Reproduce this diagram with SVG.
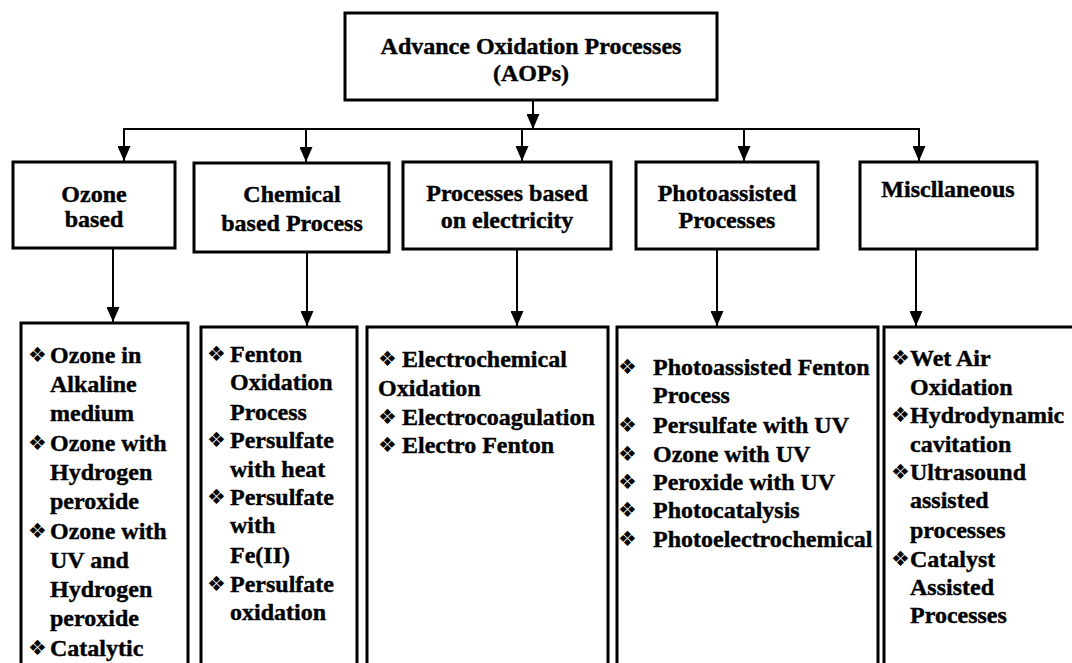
<svg xmlns="http://www.w3.org/2000/svg" width="1072" height="663" viewBox="0 0 1072 663">
<style>
.box{fill:#fff;stroke:#000;stroke-width:3}
.t{font-family:"Liberation Serif","Times New Roman",serif;font-weight:bold;font-size:24px;fill:#000;stroke:#000;stroke-width:0.4}
.c{text-anchor:middle}
.b{font-family:"DejaVu Sans",sans-serif;font-size:21px;font-weight:normal;stroke:none}
.ln{fill:none;stroke:#000;stroke-width:2}
</style>
<defs>
<marker id="ah" markerUnits="userSpaceOnUse" markerWidth="15" markerHeight="13" refX="15" refY="6.5" orient="auto" viewBox="0 0 15 13">
<path d="M0,0 L15,6.5 L0,13 z" fill="#000"/>
</marker>
</defs>
<rect width="1072" height="663" fill="#fff"/>
<g id="connectors">
<line class="ln" x1="533" y1="100" x2="533" y2="129" marker-end="url(#ah)"/>
<line class="ln" x1="123" y1="129" x2="920" y2="129"/>
<line class="ln" x1="124" y1="129" x2="124" y2="161" marker-end="url(#ah)"/>
<line class="ln" x1="306" y1="129" x2="306" y2="162" marker-end="url(#ah)"/>
<line class="ln" x1="522" y1="129" x2="522" y2="161" marker-end="url(#ah)"/>
<line class="ln" x1="744" y1="129" x2="744" y2="161" marker-end="url(#ah)"/>
<line class="ln" x1="919" y1="129" x2="919" y2="161" marker-end="url(#ah)"/>
<line class="ln" x1="113" y1="248" x2="113" y2="322" marker-end="url(#ah)"/>
<line class="ln" x1="307" y1="252" x2="307" y2="326" marker-end="url(#ah)"/>
<line class="ln" x1="517" y1="249" x2="517" y2="326" marker-end="url(#ah)"/>
<line class="ln" x1="717" y1="249" x2="717" y2="326" marker-end="url(#ah)"/>
<line class="ln" x1="916" y1="249" x2="916" y2="326" marker-end="url(#ah)"/>
</g>
<g id="aops">
<rect class="box" x="345" y="13" width="372" height="87"/>
<text class="t c" x="531" y="54">Advance Oxidation Processes</text>
<text class="t c" x="531" y="81">(AOPs)</text>
</g>
<g id="ozone">
<rect class="box" x="13" y="162" width="162" height="86"/>
<text class="t c" x="94" y="202">Ozone</text>
<text class="t c" x="94" y="227">based</text>
</g>
<g id="chemical">
<rect class="box" x="194" y="163" width="195" height="89"/>
<text class="t c" x="292" y="202">Chemical</text>
<text class="t c" x="292" y="231">based Process</text>
</g>
<g id="electricity">
<rect class="box" x="403" y="162" width="208" height="87"/>
<text class="t c" x="507" y="201">Processes based</text>
<text class="t c" x="507" y="228">on electricity</text>
</g>
<g id="photo">
<rect class="box" x="636" y="162" width="182" height="87"/>
<text class="t c" x="727" y="201">Photoassisted</text>
<text class="t c" x="727" y="228">Processes</text>
</g>
<g id="misc">
<rect class="box" x="860" y="162" width="177" height="87"/>
<text class="t c" x="948" y="197">Miscllaneous</text>
</g>
<g id="ozone-list">
<rect class="box" x="21" y="323" width="167" height="350"/>
<text class="t"><tspan class="b" x="28" y="362">❖</tspan><tspan x="50" y="363">Ozone in</tspan></text>
<text class="t" x="50" y="392">Alkaline</text>
<text class="t" x="50" y="421">medium</text>
<text class="t"><tspan class="b" x="28" y="450">❖</tspan><tspan x="50" y="451">Ozone with</tspan></text>
<text class="t" x="50" y="480">Hydrogen</text>
<text class="t" x="50" y="509">peroxide</text>
<text class="t"><tspan class="b" x="28" y="538">❖</tspan><tspan x="50" y="539">Ozone with</tspan></text>
<text class="t" x="50" y="568">UV and</text>
<text class="t" x="50" y="597">Hydrogen</text>
<text class="t" x="50" y="626">peroxide</text>
<text class="t"><tspan class="b" x="28" y="655">❖</tspan><tspan x="50" y="656">Catalytic</tspan></text>
</g>
<g id="chemical-list">
<rect class="box" x="201" y="327" width="156" height="350"/>
<text class="t"><tspan class="b" x="207" y="361">❖</tspan><tspan x="230" y="362">Fenton</tspan></text>
<text class="t" x="230" y="390">Oxidation</text>
<text class="t" x="230" y="420">Process</text>
<text class="t"><tspan class="b" x="207" y="447">❖</tspan><tspan x="230" y="448">Persulfate</tspan></text>
<text class="t" x="230" y="477">with heat</text>
<text class="t"><tspan class="b" x="207" y="504">❖</tspan><tspan x="230" y="505">Persulfate</tspan></text>
<text class="t" x="230" y="533">with</text>
<text class="t" x="230" y="563">Fe(II)</text>
<text class="t"><tspan class="b" x="207" y="591">❖</tspan><tspan x="230" y="592">Persulfate</tspan></text>
<text class="t" x="230" y="620">oxidation</text>
</g>
<g id="electricity-list">
<rect class="box" x="367" y="327" width="241" height="350"/>
<text class="t"><tspan class="b" x="378" y="366">❖</tspan><tspan x="402" y="367">Electrochemical</tspan></text>
<text class="t" x="378" y="396">Oxidation</text>
<text class="t"><tspan class="b" x="378" y="424">❖</tspan><tspan x="402" y="425">Electrocoagulation</tspan></text>
<text class="t"><tspan class="b" x="378" y="452">❖</tspan><tspan x="402" y="453">Electro Fenton</tspan></text>
</g>
<g id="photo-list">
<rect class="box" x="617" y="327" width="261" height="350"/>
<text class="t"><tspan class="b" x="618" y="374">❖</tspan><tspan x="653" y="375">Photoassisted Fenton</tspan></text>
<text class="t" x="653" y="403">Process</text>
<text class="t"><tspan class="b" x="618" y="432">❖</tspan><tspan x="653" y="433">Persulfate with UV</tspan></text>
<text class="t"><tspan class="b" x="618" y="461">❖</tspan><tspan x="653" y="462">Ozone with UV</tspan></text>
<text class="t"><tspan class="b" x="618" y="489">❖</tspan><tspan x="653" y="490">Peroxide with UV</tspan></text>
<text class="t"><tspan class="b" x="618" y="517">❖</tspan><tspan x="653" y="518">Photocatalysis</tspan></text>
<text class="t"><tspan class="b" x="618" y="546">❖</tspan><tspan x="653" y="547">Photoelectrochemical</tspan></text>
</g>
<g id="misc-list">
<rect class="box" x="884" y="327" width="200" height="350"/>
<text class="t"><tspan class="b" x="891" y="365">❖</tspan><tspan x="910" y="366">Wet Air</tspan></text>
<text class="t" x="910" y="395">Oxidation</text>
<text class="t"><tspan class="b" x="891" y="422">❖</tspan><tspan x="910" y="423">Hydrodynamic</tspan></text>
<text class="t" x="910" y="452">cavitation</text>
<text class="t"><tspan class="b" x="891" y="479">❖</tspan><tspan x="910" y="480">Ultrasound</tspan></text>
<text class="t" x="910" y="508">assisted</text>
<text class="t" x="910" y="538">processes</text>
<text class="t"><tspan class="b" x="891" y="566">❖</tspan><tspan x="910" y="567">Catalyst</tspan></text>
<text class="t" x="910" y="595">Assisted</text>
<text class="t" x="910" y="623">Processes</text>
</g>
</svg>
